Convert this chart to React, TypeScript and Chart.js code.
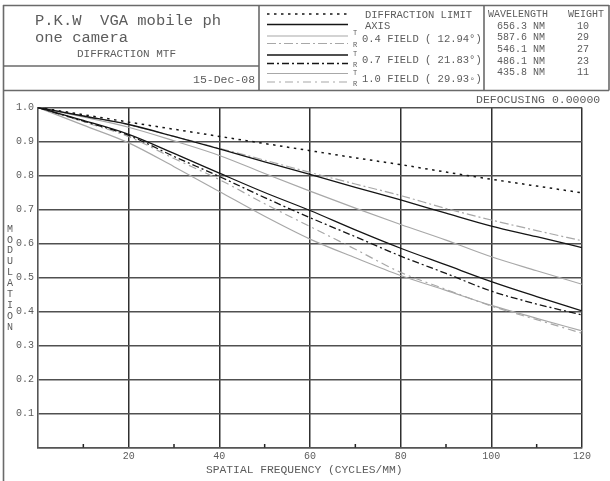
import React, { useEffect, useRef } from "react";
import { Chart, registerables } from "chart.js";

Chart.register(...registerables);

// Spatial frequency samples (cycles/mm) and modulation values per field
const frequencies = [0, 10, 20, 30, 40, 50, 60, 70, 80, 90, 100, 110, 120];
const diffractionLimit = [1.0, 0.979, 0.957, 0.936, 0.915, 0.894, 0.873, 0.852, 0.832, 0.81, 0.789, 0.769, 0.749];
const axisMtf = [1.0, 0.975, 0.95, 0.915, 0.878, 0.84, 0.803, 0.765, 0.728, 0.689, 0.651, 0.62, 0.588];
const field04T = [1.0, 0.972, 0.942, 0.902, 0.859, 0.806, 0.754, 0.704, 0.656, 0.61, 0.561, 0.52, 0.48];
const field04R = [1.0, 0.975, 0.949, 0.915, 0.88, 0.845, 0.809, 0.775, 0.741, 0.703, 0.669, 0.638, 0.608];
const field07T = [1.0, 0.962, 0.921, 0.865, 0.807, 0.75, 0.697, 0.64, 0.586, 0.537, 0.488, 0.444, 0.402];
const field07R = [1.0, 0.96, 0.918, 0.856, 0.797, 0.735, 0.676, 0.62, 0.563, 0.512, 0.46, 0.422, 0.39];
const field10T = [1.0, 0.948, 0.896, 0.826, 0.753, 0.68, 0.613, 0.558, 0.506, 0.462, 0.418, 0.38, 0.343];
const field10R = [1.0, 0.958, 0.914, 0.85, 0.788, 0.717, 0.65, 0.583, 0.515, 0.465, 0.416, 0.376, 0.336];

const xLabelTicks = [20, 40, 60, 80, 100, 120];
const xMinorTicks = [10, 30, 50, 70, 90, 110];

const wavelengths = ["656.3 NM", "587.6 NM", "546.1 NM", "486.1 NM", "435.8 NM"];
const weights = ["10", "29", "27", "23", "11"];

const fieldLabels = ["0.4 FIELD ( 12.94°)", "0.7 FIELD ( 21.83°)", "1.0 FIELD ( 29.93◦)"];

const FONT = "'Liberation Mono', 'Courier New', monospace";
const TEXT = "#5c5c5c";
const BLACK = "#151515";
const GRAY = "#a8a8a8";
const FRAME = "#6a6a6a";

const DOT = [2.5, 4.5];
const DASH_DOT_04 = [9, 3, 2, 3];
const DASH_DOT_07 = [7, 3, 2, 3];
const DASH_DOT_10 = [8, 4, 2, 4];

const pairs = (ys: number[]) => frequencies.map((x, i) => ({ x, y: ys[i] }));

type TxtProps = { x: number; y: number; size: number; children: React.ReactNode; color?: string };
const Txt = ({ x, y, size, children, color }: TxtProps) => (
  <div
    style={{
      position: "absolute",
      left: x,
      top: y - 0.7665 * size,
      fontSize: size,
      lineHeight: size + "px",
      fontFamily: FONT,
      color: color || TEXT,
      whiteSpace: "pre",
    }}
  >
    {children}
  </div>
);

const framePlugin = {
  id: "frame",
  beforeDraw(chart: any) {
    const ctx = chart.ctx;
    ctx.save();
    ctx.strokeStyle = FRAME;
    ctx.lineWidth = 1.6;
    const seg = (x1: number, y1: number, x2: number, y2: number) => {
      ctx.beginPath();
      ctx.moveTo(x1, y1);
      ctx.lineTo(x2, y2);
      ctx.stroke();
    };
    seg(3.5, 5, 3.5, 481);
    seg(3, 5.5, 609, 5.5);
    seg(609, 5, 609, 90.5);
    seg(3, 90.5, 609, 90.5);
    seg(3, 66, 259, 66);
    seg(259, 5, 259, 90.5);
    seg(484, 5, 484, 90.5);

    // legend line samples
    const sample = (y: number, color: string, dash: number[], w: number) => {
      ctx.strokeStyle = color;
      ctx.lineWidth = w;
      ctx.setLineDash(dash);
      ctx.beginPath();
      ctx.moveTo(267, y);
      ctx.lineTo(348, y);
      ctx.stroke();
    };
    sample(14, BLACK, DOT, 1.5);
    sample(24.5, BLACK, [], 1.3);
    sample(36, GRAY, [], 1.2);
    sample(43.5, GRAY, DASH_DOT_04, 1.2);
    sample(55, BLACK, [], 1.3);
    sample(63.5, BLACK, DASH_DOT_07, 1.3);
    sample(73.5, GRAY, [], 1.2);
    sample(82, GRAY, DASH_DOT_10, 1.2);
    ctx.setLineDash([]);
    ctx.restore();
  },
  afterDatasetsDraw(chart: any) {
    const ctx = chart.ctx;
    const xs = chart.scales.x;
    const bottom = chart.chartArea.bottom;
    ctx.save();
    ctx.strokeStyle = "#222";
    ctx.lineWidth = 1.5;
    for (const v of xMinorTicks) {
      const px = xs.getPixelForValue(v);
      ctx.beginPath();
      ctx.moveTo(px, bottom);
      ctx.lineTo(px, bottom - 3.5);
      ctx.stroke();
    }
    ctx.restore();
  },
};

export default function App() {
  const canvasRef = useRef<HTMLCanvasElement | null>(null);

  useEffect(() => {
    const canvas = canvasRef.current;
    if (!canvas) return;
    const line = (label: string, ys: number[], color: string, dash: number[], width: number) => ({
      label,
      data: pairs(ys),
      borderColor: color,
      borderDash: dash,
      borderWidth: width,
      pointRadius: 0,
      fill: false,
      cubicInterpolationMode: "monotone" as const,
    });
    const chart = new Chart(canvas, {
      type: "line",
      data: {
        datasets: [
          line("DIFFRACTION LIMIT", diffractionLimit, BLACK, DOT, 1.5),
          line("AXIS", axisMtf, BLACK, [], 1.3),
          line("0.7 FIELD T", field07T, BLACK, [], 1.3),
          line("0.7 FIELD R", field07R, BLACK, DASH_DOT_07, 1.3),
          line("0.4 FIELD T", field04T, GRAY, [], 1.2),
          line("0.4 FIELD R", field04R, GRAY, DASH_DOT_04, 1.2),
          line("1.0 FIELD T", field10T, GRAY, [], 1.2),
          line("1.0 FIELD R", field10R, GRAY, DASH_DOT_10, 1.2),
        ],
      },
      options: {
        animation: false,
        responsive: false,
        devicePixelRatio: 1,
        layout: { padding: { left: 0, top: 107.5, right: 28, bottom: 0 } },
        plugins: { legend: { display: false }, tooltip: { enabled: false } },
        scales: {
          x: {
            type: "linear",
            min: 0,
            max: 120,
            afterFit: (s: any) => {
              s.height = 33.5;
            },
            afterBuildTicks: (s: any) => {
              s.ticks = [0, ...xMinorTicks, ...xLabelTicks].sort((a, b) => a - b).map((value) => ({ value }));
            },
            ticks: {
              autoSkip: false,
              maxRotation: 0,
              padding: 3,
              color: TEXT,
              font: { family: FONT, size: 10 },
              callback: (v: any) => (xLabelTicks.includes(Number(v)) ? String(v) : ""),
            },
            grid: {
              drawTicks: false,
              lineWidth: 1.5,
              color: (c: any) => (c.tick && xLabelTicks.includes(c.tick.value) ? "#303030" : "rgba(0,0,0,0)"),
            },
            border: { color: "#555", width: 1.6 },
          },
          y: {
            type: "linear",
            min: 0,
            max: 1,
            afterFit: (s: any) => {
              s.width = 38;
            },
            ticks: {
              stepSize: 0.1,
              padding: 4,
              color: TEXT,
              font: { family: FONT, size: 10 },
              callback: (v: any) => (Number(v) === 0 ? "" : Number(v).toFixed(1)),
            },
            grid: { drawTicks: false, lineWidth: 1.5, color: "#505050" },
            border: { color: "#555", width: 1.6 },
          },
        },
      },
      plugins: [framePlugin],
    });
    return () => chart.destroy();
  }, []);

  const yTitle = "MODULATION".split("");

  return (
    <div style={{ position: "fixed", left: 0, top: 0, width: 610, height: 481, background: "#fff", overflow: "hidden" }}>
      <canvas ref={canvasRef} width={610} height={481} style={{ position: "absolute", left: 0, top: 0 }} />
      <div style={{ position: "absolute", left: 0, top: 0, width: 610, height: 481 }}>
        <Txt x={35} y={26} size={15.5}>{"P.K.W  VGA mobile ph"}</Txt>
        <Txt x={35} y={42.5} size={15.5}>{"one camera"}</Txt>
        <Txt x={77} y={57.5} size={11}>{"DIFFRACTION MTF"}</Txt>
        <Txt x={193} y={82.5} size={11.5}>{"15-Dec-08"}</Txt>

        <Txt x={365} y={18} size={10.5}>{"DIFFRACTION LIMIT"}</Txt>
        <Txt x={365} y={29} size={10.5}>{"AXIS"}</Txt>
        {fieldLabels.map((t, i) => {
          const base = [42.5, 63, 82][i];
          const mid = [37, 57.5, 76.5][i];
          return (
            <React.Fragment key={t}>
              <Txt x={353} y={mid - 1.5} size={7}>{"T"}</Txt>
              <Txt x={353} y={mid + 10} size={7}>{"R"}</Txt>
              <Txt x={362} y={base} size={10.5}>{t}</Txt>
            </React.Fragment>
          );
        })}

        <Txt x={488} y={17.5} size={10}>{"WAVELENGTH"}</Txt>
        <Txt x={568} y={17.5} size={10}>{"WEIGHT"}</Txt>
        {wavelengths.map((w, i) => (
          <React.Fragment key={w}>
            <Txt x={497} y={29.5 + i * 11.65} size={10}>{w}</Txt>
            <Txt x={577} y={29.5 + i * 11.65} size={10}>{weights[i]}</Txt>
          </React.Fragment>
        ))}

        <Txt x={476} y={102.5} size={11.5}>{"DEFOCUSING 0.00000"}</Txt>

        {yTitle.map((ch, i) => (
          <Txt key={i} x={7} y={229 + i * 10.9 + 3.3} size={10}>{ch}</Txt>
        ))}

        <Txt x={206} y={473.5} size={11.3}>{"SPATIAL FREQUENCY (CYCLES/MM)"}</Txt>
      </div>
    </div>
  );
}
